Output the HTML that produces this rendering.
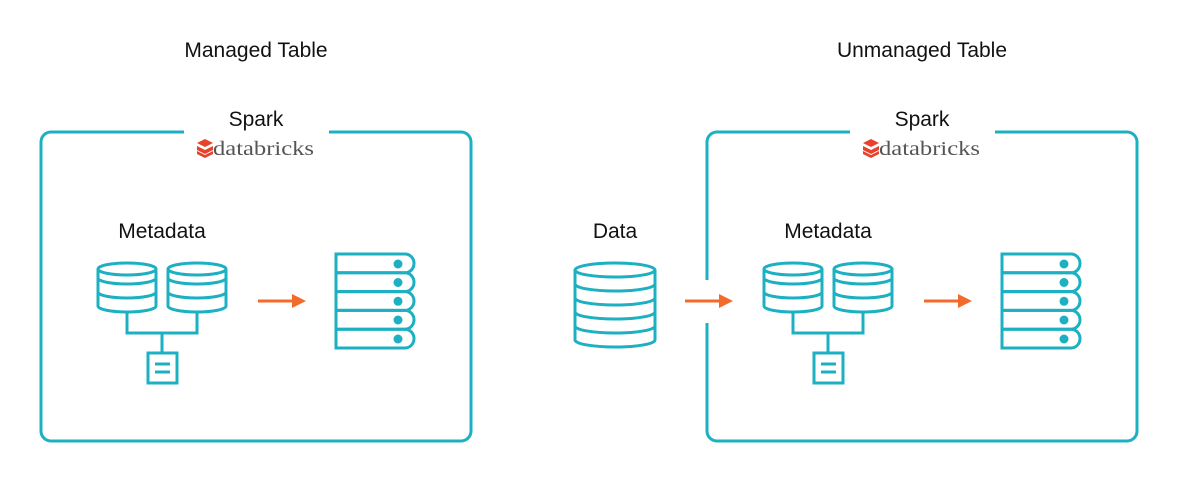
<!DOCTYPE html>
<html><head><meta charset="utf-8"><style>
html,body{margin:0;padding:0;background:#fff;}
svg{display:block;}
text{font-family:"Liberation Sans",sans-serif;fill:#111;}
text.logo{font-family:"Liberation Serif",serif;fill:#555;}
</style></head><body>
<svg width="1179" height="483" viewBox="0 0 1179 483" xmlns="http://www.w3.org/2000/svg">
<defs>
<g id="cyl" fill="none" stroke="#1cb0c2" stroke-width="3">
  <path d="M0,7 V44 A29,6 0 0 0 58,44 V7"/>
  <ellipse cx="29" cy="7" rx="29" ry="6"/>
  <path d="M0,16 A29,6 0 0 0 58,16 M0,30 A29,6 0 0 0 58,30"/>
</g>
<g id="server" fill="none" stroke="#1cb0c2" stroke-width="3">
  <path d="M0,0 H69 A9,9.4 0 0 1 69,18.8 H0 Z"/>
  <path d="M0,18.8 H69 A9,9.4 0 0 1 69,37.6 H0 Z"/>
  <path d="M0,37.6 H69 A9,9.4 0 0 1 69,56.4 H0 Z"/>
  <path d="M0,56.4 H69 A9,9.4 0 0 1 69,75.2 H0 Z"/>
  <path d="M0,75.2 H69 A9,9.4 0 0 1 69,94 H0 Z"/>
  <g fill="#1cb0c2" stroke="none">
   <circle cx="62" cy="10" r="4.5"/><circle cx="62" cy="28.5" r="4.5"/><circle cx="62" cy="47.3" r="4.5"/><circle cx="62" cy="66" r="4.5"/><circle cx="62" cy="85" r="4.5"/>
  </g>
</g>
<g id="arrow">
  <line x1="0" y1="0" x2="36" y2="0" stroke="#f26b2a" stroke-width="3"/>
  <polygon points="34,-7 48,0 34,7" fill="#f26b2a"/>
</g>
<g id="logo">
  <polygon points="-59,-6 -51,-10 -43,-6 -51,-2" fill="#e8412c"/>
  <polygon points="-59,-3 -51,1 -43,-3 -43,1 -51,5 -59,1" fill="#e8412c"/>
  <polygon points="-59,2 -51,6 -43,2 -43,5 -51,9 -59,5" fill="#e8412c"/>
  <text class="logo" x="-43" y="6" font-size="20" textLength="101" lengthAdjust="spacingAndGlyphs">databricks</text>
</g>
<g id="panel">
  <path d="M184,132 H51 A10,10 0 0 0 41,142 V431 A10,10 0 0 0 51,441 H461 A10,10 0 0 0 471,431 V142 A10,10 0 0 0 461,132 H329" fill="none" stroke="#1cb0c2" stroke-width="3"/>
  <text x="256" y="126" font-size="21" text-anchor="middle">Spark</text>
  <use href="#logo" transform="translate(256,149)"/>
  <text x="162" y="238" font-size="21" text-anchor="middle">Metadata</text>
  <use href="#cyl" x="98" y="262"/>
  <use href="#cyl" x="168" y="262"/>
  <path d="M127,313 V333 H197 V313 M162,333 V353" fill="none" stroke="#1cb0c2" stroke-width="3"/>
  <rect x="148" y="353" width="29" height="30" fill="none" stroke="#1cb0c2" stroke-width="3"/>
  <path d="M155,364 H170 M155,372 H170" stroke="#1cb0c2" stroke-width="3"/>
  <use href="#arrow" transform="translate(258,301)"/>
  <use href="#server" transform="translate(336,254)"/>
</g>
</defs>
<text x="256" y="57" font-size="21" text-anchor="middle">Managed Table</text>
<text x="922" y="57" font-size="21" text-anchor="middle">Unmanaged Table</text>
<use href="#panel"/>
<g transform="translate(666,0)"><use href="#panel"/></g>
<rect x="700" y="280" width="14" height="43" fill="#fff"/>
<text x="615" y="238" font-size="21" text-anchor="middle">Data</text>
<g fill="none" stroke="#1cb0c2" stroke-width="3">
  <path d="M575,270 V340 A40,7 0 0 0 655,340 V270"/>
  <ellipse cx="615" cy="270" rx="40" ry="7"/>
  <path d="M575,284 A40,7 0 0 0 655,284 M575,298 A40,7 0 0 0 655,298 M575,312 A40,7 0 0 0 655,312 M575,326 A40,7 0 0 0 655,326"/>
</g>
<use href="#arrow" transform="translate(685,301)"/>
</svg>
</body></html>
